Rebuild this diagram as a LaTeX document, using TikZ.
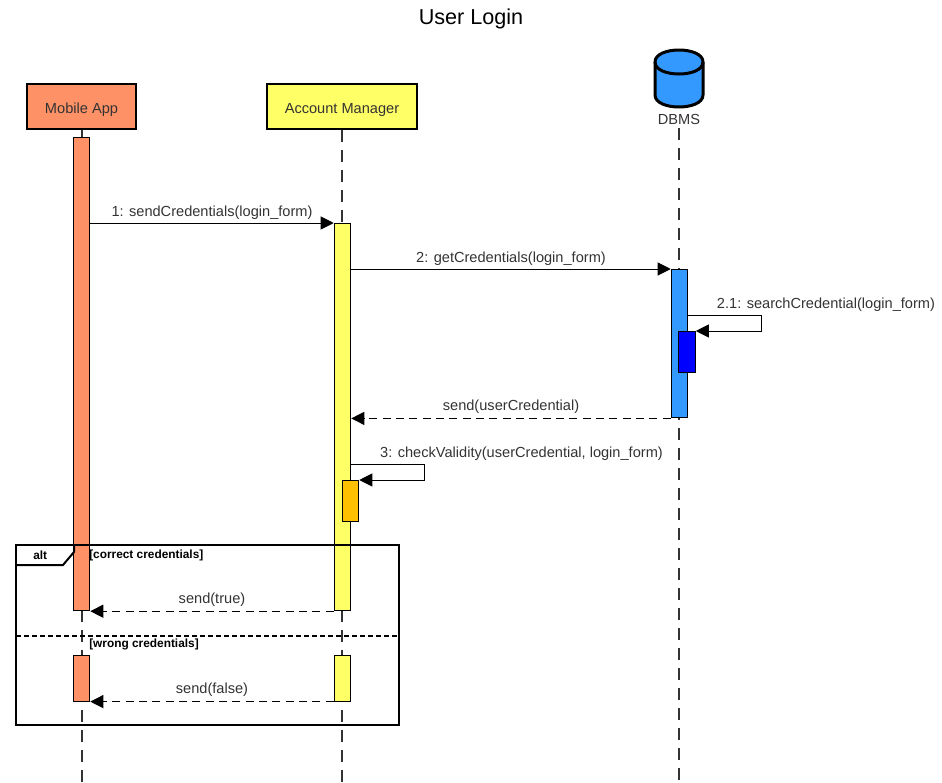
\documentclass[tikz,border=0pt]{standalone}
\usepackage{fontspec}
\setmainfont{Liberation Sans}
\usetikzlibrary{arrows.meta}
\definecolor{mobile}{HTML}{FF9166}
\definecolor{manager}{HTML}{FFFF66}
\definecolor{dbblue}{HTML}{3399FF}
\definecolor{inkdark}{HTML}{333333}
\definecolor{amber}{HTML}{FFC000}
\tikzset{
 x=0.75pt,y=-0.75pt,
 head/.style={rectangle,draw=black,line width=1.5pt,minimum height=33.75pt,inner sep=0pt,text=inkdark,font=\fontsize{10.95pt}{12pt}\selectfont},
 act/.style={rectangle,draw=black,line width=0.75pt,minimum width=12.4pt,inner sep=0pt,anchor=north},
 life/.style={draw=inkdark,line width=1pt,dash pattern=on 9pt off 6pt},
 msg/.style={draw=black,line width=0.75pt,-{Triangle[length=9.75pt,width=9.75pt]}},
 ret/.style={msg,line width=0.9pt,dash pattern=on 6pt off 4pt},
 lbl/.style={inner sep=0pt,text=inkdark,font=\fontsize{10.95pt}{12pt}\selectfont},
 frag/.style={inner sep=0pt,anchor=west,text=black,font=\bfseries\fontsize{8.9pt}{10pt}\selectfont},
}
\begin{document}
\begin{tikzpicture}
\useasboundingbox (0,0) rectangle (942,782);
\node[inner sep=0pt,text=black,font=\fontsize{16.2pt}{18pt}\selectfont] (title) at (471,18.5) {User Login};

\node[head,fill=mobile,minimum width=81.75pt] (mobilehead) at (81.5,106.5) {\raisebox{-4.9pt}[0pt][0pt]{Mobile App}};
\node[head,fill=manager,minimum width=112.5pt] (managerhead) at (342,106.5) {\raisebox{-4.9pt}[0pt][0pt]{Account Manager}};
\draw[black,line width=2.25pt,fill=dbblue] (655,62) .. controls (655,46) and (703,46) .. (703,62) -- (703,95) .. controls (703,111) and (655,111) .. (655,95) -- cycle;
\draw[black,line width=2.25pt] (655,62) .. controls (655,78) and (703,78) .. (703,62);
\node[lbl] (dblabel) at (679,119) {DBMS};

\coordinate (mobileend) at (82,782);
\coordinate (managerend) at (342,782);
\coordinate (dbstart) at (679,128);
\coordinate (dbend) at (679,782);
\draw[life] (mobilehead.south -| mobileend) -- (mobileend);
\draw[life] (managerhead.south) -- (managerend);
\draw[life] (dbstart) -- (dbend);

\draw[fill=white,draw=none] (16,545) -- (74,545) -- (74,552) -- (63,565) -- (16,565) -- cycle;

\node[act,fill=mobile,minimum height=354.9pt] (ma) at (81.5,137) {};
\node[act,fill=manager,minimum height=290.4pt] (aa) at (342.5,223) {};
\node[act,fill=dbblue,minimum height=111.3pt] (da) at (679.5,269) {};
\node[act,fill=blue,minimum height=30.75pt] (db) at (687,331) {};
\node[act,fill=amber,minimum height=30.75pt] (ab) at (350.5,480) {};
\node[act,fill=mobile,minimum height=34.2pt] (mc) at (81.5,655) {};
\node[act,fill=manager,minimum height=34.2pt] (ac) at (342.5,655) {};

\draw[msg] (ma.east |- 0,223) -- (aa.north west);
\node[lbl] (m1) at (212,213) {1: sendCredentials(login\_form)};
\draw[msg] (aa.east |- 0,269) -- (da.north west);
\node[lbl] (m2) at (511,259) {2: getCredentials(login\_form)};
\coordinate (dc1) at (761,315);
\coordinate (dc2) at (761,331);
\draw[msg] (da.east |- dc1) -- (dc1) -- (dc2) -- (db.north east);
\node[lbl] (m21) at (826,305) {2.1: searchCredential(login\_form)};
\draw[ret] (da.south west) -- (aa.east |- da.south);
\node[lbl] (m22) at (511,407) {send(userCredential)};
\coordinate (ac1) at (424,464);
\coordinate (ac2) at (424,480);
\draw[msg] (aa.east |- ac1) -- (ac1) -- (ac2) -- (ab.north east);
\node[lbl] (m3) at (521.5,453.5) {3: checkValidity(userCredential, login\_form)};

\coordinate (ftl) at (16,545);
\coordinate (fbr) at (399,725);
\draw[line width=1.5pt] (ftl) rectangle (fbr);
\draw[line width=1.5pt] (16,565) -- (63,565) -- (74,552) -- (74,545);
\draw[line width=1.5pt,dash pattern=on 3.75pt off 2.25pt] (16,635.5) -- (399,635.5);
\node[frag] (alt) at (33,555) {alt};
\node[frag] (g1) at (89,555) {[correct credentials]};
\node[frag] (g2) at (89,644.5) {[wrong credentials]};

\draw[ret] (aa.south west) -- (ma.south east);
\node[lbl] (r1) at (212,600) {send(true)};
\draw[ret] (ac.south west) -- (mc.south east);
\node[lbl] (r2) at (212,690) {send(false)};
\end{tikzpicture}
\end{document}
